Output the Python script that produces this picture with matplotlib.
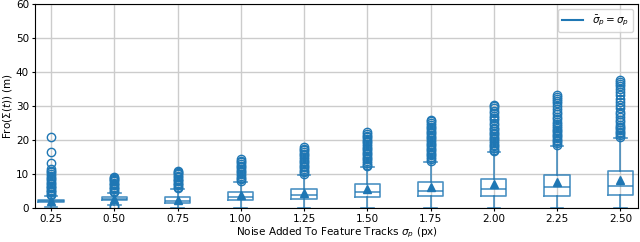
import matplotlib
matplotlib.use("Agg")
import matplotlib.pyplot as plt

noise = ['0.25', '0.50', '0.75', '1.00', '1.25', '1.50', '1.75', '2.00', '2.25', '2.50']
q1 = [1.7, 2.3, 1.5, 2.5, 2.8, 3.4, 3.6, 3.6, 3.7, 3.9]
med = [2.0, 2.7, 2.1, 3.4, 3.8, 4.7, 5.0, 5.5, 6.1, 6.6]
q3 = [2.4, 3.2, 3.2, 4.7, 5.6, 7.0, 7.8, 8.7, 9.7, 10.9]
mean = [2.1, 2.8, 2.4, 3.8, 4.4, 5.5, 6.3, 7.1, 7.8, 8.4]
whislo = [0.4, 1.0, 0.1, 0.0, 0.0, 0.0, 0.0, 0.0, 0.0, 0.0]
whishi = [3.6, 4.5, 5.7, 7.8, 9.7, 12.0, 13.7, 16.4, 18.3, 20.7]
fliers = [
    [3.8, 4.2, 4.6, 5.0, 5.4, 5.8, 6.2, 6.6, 7.0, 7.5, 8.0, 8.5, 9.0, 9.5, 10.0, 10.5, 11.0, 11.5, 13.3, 16.4, 21.0],
    [0.3, 0.6, 4.7, 5.1, 5.5, 5.9, 6.3, 6.7, 7.1, 7.5, 7.9, 8.3, 8.7, 9.0, 9.2],
    [5.9, 6.3, 6.7, 7.1, 7.5, 7.9, 8.3, 8.7, 9.1, 9.5, 9.9, 10.3, 10.7, 11.0],
    [8.0, 8.5, 9.0, 9.5, 10.0, 10.5, 11.0, 11.5, 12.0, 12.5, 13.0, 13.5, 14.0, 14.5],
    [10.0, 10.5, 11.0, 11.5, 12.0, 12.5, 13.0, 13.5, 14.0, 14.5, 15.0, 15.5, 16.0, 16.5, 17.0, 17.5, 17.9],
    [12.3, 12.8, 13.3, 13.8, 14.3, 14.8, 15.3, 15.8, 16.3, 16.8, 17.3, 17.8, 18.3, 18.8, 19.3, 19.8, 20.3, 20.8, 21.3, 21.8, 22.3],
    [14.0, 14.5, 15.0, 15.5, 16.0, 16.5, 17.0, 17.5, 18.0, 18.5, 19.0, 19.5, 20.0, 20.5, 21.0, 21.5, 22.0, 22.5, 23.0, 23.5, 24.0, 24.5, 25.0, 25.5, 26.0],
    [16.7, 17.2, 17.7, 18.2, 18.7, 19.2, 19.7, 20.2, 20.7, 21.2, 21.7, 22.2, 22.7, 23.2, 23.7, 24.3, 25.0, 25.8, 26.5, 27.2, 28.0, 28.7, 29.4, 29.9, 30.3],
    [18.6, 19.1, 19.6, 20.1, 20.6, 21.1, 21.6, 22.1, 22.6, 23.1, 23.6, 24.1, 24.7, 25.4, 26.1, 26.8, 27.6, 28.4, 29.2, 30.0, 30.8, 31.5, 32.2, 32.8, 33.3],
    [21.0, 21.5, 22.0, 22.5, 23.0, 23.5, 24.0, 24.5, 25.2, 26.0, 26.8, 27.6, 28.4, 29.3, 30.2, 31.2, 32.2, 33.2, 34.1, 35.0, 35.8, 36.5, 37.0, 37.6],
]

stats = []
for i in range(len(noise)):
    stats.append({'med': med[i], 'q1': q1[i], 'q3': q3[i], 'mean': mean[i],
                  'whislo': whislo[i], 'whishi': whishi[i], 'fliers': fliers[i]})

c = '#1f77b4'
fig, ax = plt.subplots(figsize=(6.4, 2.42), dpi=100)
ax.bxp(stats, positions=range(1, len(noise) + 1), widths=0.4, showmeans=True,
       boxprops=dict(color=c, alpha=0.8, lw=1.2),
       whiskerprops=dict(color=c, alpha=0.8, lw=1.2),
       capprops=dict(color=c, alpha=0.8, lw=1.2),
       medianprops=dict(color=c, alpha=0.8, lw=1.2),
       meanprops=dict(marker='^', markerfacecolor=c, markeredgecolor=c, markersize=6),
       flierprops=dict(marker='o', markerfacecolor='none', markeredgecolor=c, markersize=6))
ax.plot([], [], color=c, label=r'$\bar{\sigma}_p = \sigma_p$')
ax.set_xticks(range(1, len(noise) + 1))
ax.set_xticklabels(noise)
ax.set_xlim(0.75, 10.28)
ax.set_ylim(0, 60)
ax.set_yticks(range(0, 61, 10))
ax.grid(True, color='#cccccc', lw=1)
ax.set_axisbelow(True)
ax.tick_params(labelsize=7.5, length=2.5, pad=2)
ax.set_xlabel(r'Noise Added To Feature Tracks $\sigma_p$ (px)', fontsize=7.5, labelpad=1)
ax.set_ylabel(r'Fro($\Sigma(t)$) (m)', fontsize=7.5, labelpad=1)
ax.legend(loc='upper right', fontsize=7.5)
fig.subplots_adjust(left=0.055, right=0.997, top=0.983, bottom=0.14)
fig.savefig('out.png')
